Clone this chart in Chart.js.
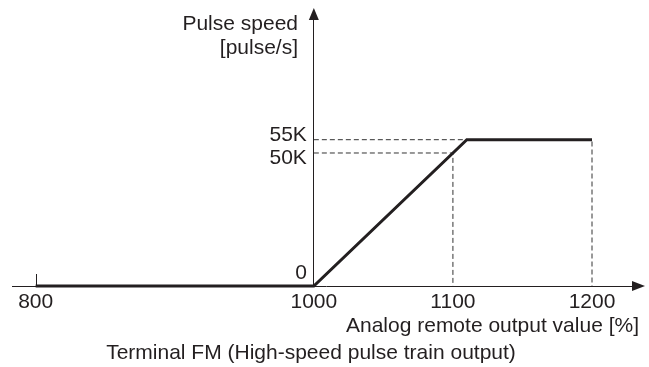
<!DOCTYPE html>
<html>
<head>
<meta charset="utf-8">
<script src="https://cdn.jsdelivr.net/npm/chart.js@4/dist/chart.umd.min.js"></script>
<style>
  html, body { margin: 0; padding: 0; background: #ffffff; }
  #wrap { position: relative; width: 649px; height: 367px; }
</style>
</head>
<body>
<div id="wrap"><canvas id="c"></canvas></div>
<script>
// ---- data ----
const xTickValues = [800, 1000, 1100, 1200];
const yTickValues = [0, 50000, 55000];
const yTickLabels = ['0', '50K', '55K'];

const curveX = [800, 1000, 1110, 1200];
const curveY = [0, 0, 55000, 55000];

const guide50X = [1000, 1100, 1100];
const guide50Y = [50000, 50000, 0];
const guide55X = [1000, 1200, 1200];
const guide55Y = [55000, 55000, 0];

const yAxisTitle = ['Pulse speed', '[pulse/s]'];
const xAxisTitle = 'Analog remote output value [%]';
const caption = 'Terminal FM (High-speed pulse train output)';

// ---- styling ----
const INK = '#231f20';
const FONT_FAMILY = '"Liberation Sans", Arial, Helvetica, sans-serif';
const FONT_SIZE = 21;

function pts(xs, ys) { return xs.map((x, i) => ({ x: x, y: ys[i] })); }

const decorations = {
  id: 'decorations',
  afterDraw(chart) {
    const ctx = chart.ctx;
    const xs = chart.scales.x, ys = chart.scales.y;
    const area = chart.chartArea;
    const x0 = xs.getPixelForValue(1000);
    const y0 = ys.getPixelForValue(0);
    ctx.save();
    ctx.fillStyle = INK;
    ctx.strokeStyle = INK;

    // y axis arrow head
    ctx.beginPath();
    ctx.moveTo(x0, area.top - 10);
    ctx.lineTo(x0 - 5, area.top + 2);
    ctx.lineTo(x0 + 5, area.top + 2);
    ctx.closePath();
    ctx.fill();

    // x axis arrow head
    ctx.beginPath();
    ctx.moveTo(area.right + 5, y0);
    ctx.lineTo(area.right - 8, y0 - 5);
    ctx.lineTo(area.right - 8, y0 + 5);
    ctx.closePath();
    ctx.fill();

    // small tick at the first x tick (800)
    const xt = Math.round(xs.getPixelForValue(xTickValues[0])) + 0.5;
    ctx.lineWidth = 1;
    ctx.beginPath();
    ctx.moveTo(xt, y0);
    ctx.lineTo(xt, y0 - 12);
    ctx.stroke();

    // y tick labels
    ctx.font = FONT_SIZE + 'px ' + FONT_FAMILY;
    ctx.textAlign = 'right';
    ctx.textBaseline = 'middle';
    const yOffsets = [-13, 5, -4];
    yTickValues.forEach((v, i) => {
      ctx.fillText(yTickLabels[i], x0 - 7, ys.getPixelForValue(v) + yOffsets[i]);
    });

    // y axis title
    ctx.textBaseline = 'alphabetic';
    ctx.textAlign = 'right';
    ctx.fillText(yAxisTitle[0], 298, 30);
    ctx.fillText(yAxisTitle[1], 298, 54);

    // x axis title
    ctx.textAlign = 'right';
    ctx.fillText(xAxisTitle, 639, 332);

    // caption
    ctx.textAlign = 'center';
    ctx.fillText(caption, 311, 359);
    ctx.restore();
  }
};

new Chart(document.getElementById('c'), {
  type: 'line',
  data: {
    datasets: [
      {
        data: pts(curveX, curveY),
        borderColor: INK,
        borderWidth: 3,
        pointRadius: 0,
        tension: 0,
        clip: false,
        borderJoinStyle: 'miter'
      },
      {
        data: pts(guide50X, guide50Y),
        borderColor: '#333333',
        borderWidth: 1,
        borderDash: [5, 3],
        pointRadius: 0,
        tension: 0,
        clip: false
      },
      {
        data: pts(guide55X, guide55Y),
        borderColor: '#333333',
        borderWidth: 1,
        borderDash: [5, 3],
        pointRadius: 0,
        tension: 0,
        clip: false
      }
    ]
  },
  options: {
    responsive: true,
    maintainAspectRatio: false,
    animation: false,
    events: [],
    layout: { padding: { left: 12, right: 9, top: 18, bottom: 81 } },
    plugins: { legend: { display: false }, tooltip: { enabled: false }, title: { display: false } },
    scales: {
      x: {
        type: 'linear',
        min: 783,
        max: 1234.5,
        position: { y: 0 },
        afterBuildTicks(scale) { scale.ticks = xTickValues.map(v => ({ value: v })); },
        grid: { display: false, drawTicks: false },
        border: { display: true, color: INK, width: 1 },
        ticks: {
          color: INK,
          padding: 6,
          maxRotation: 0,
          autoSkip: false,
          font: { family: FONT_FAMILY, size: FONT_SIZE, lineHeight: 1 },
          callback: (v) => String(v)
        }
      },
      y: {
        type: 'linear',
        min: 0,
        max: 100750,
        position: { x: 1000 },
        grid: { display: false, drawTicks: false },
        border: { display: true, color: INK, width: 1 },
        ticks: { display: false }
      }
    }
  },
  plugins: [decorations]
});
</script>
</body>
</html>
